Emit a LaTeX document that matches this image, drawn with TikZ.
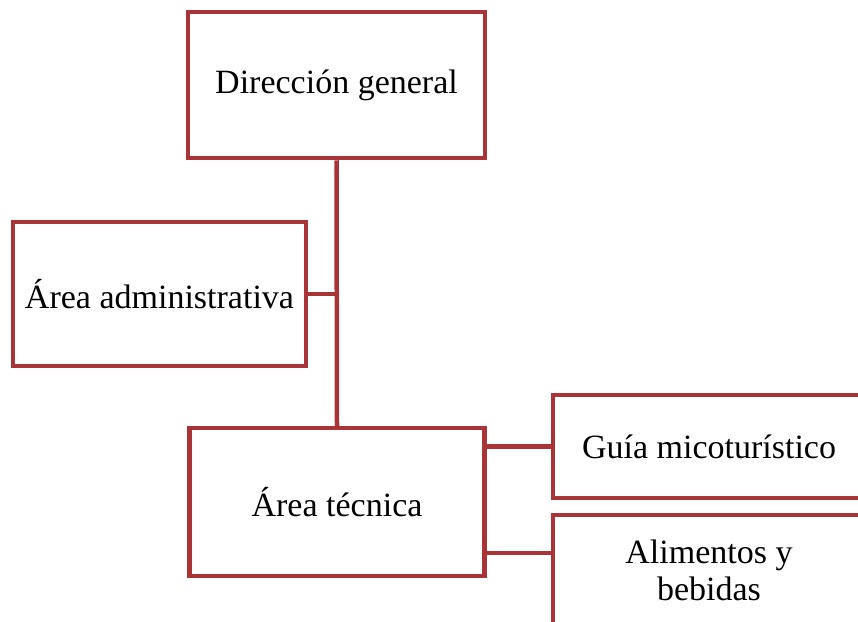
\documentclass[tikz,border=0pt]{standalone}
\usepackage{fontspec}
\setmainfont{Liberation Serif}
\usepackage{tikz}
\definecolor{boxred}{RGB}{168,52,56}

\begin{document}
\begin{tikzpicture}[
    x=1pt,y=-1pt,
    unit/.style={draw=boxred, line width=4.5pt, fill=white, align=center,
      inner sep=0pt, font=\fontsize{34}{37}\selectfont},
    line/.style={boxred, line width=4.5pt}
    ]
    \useasboundingbox (0, 0) rectangle (858, 621);
    \clip (0, 0) rectangle (858, 621);
    \node[unit, minimum width=297, minimum height=146] (dir) at (336.5, 85) {Dirección general};
    \node[unit, minimum width=293, minimum height=144] (adm) at (159.5, 294) {Área administrativa};
    \node[unit, minimum width=295, minimum height=148] (tec) at (337, 502) {Área técnica};
    \node[unit, minimum width=312, minimum height=103] (guia) at (709, 446.5) {Guía micoturístico};
    \node[unit, minimum width=312, minimum height=110] (alim) at (709, 570) {Alimentos y\\bebidas};
    \draw[line] (dir.south) -- (tec.north);
    \draw[line] (adm.east) -- (adm.east -| dir.south);
    \draw[line] (guia.west) -- (guia.west -| tec.east);
    \draw[line] ([yshift=17pt]alim.west) -- ([yshift=17pt]alim.west -| tec.east);
  \end{tikzpicture}
\end{document}
